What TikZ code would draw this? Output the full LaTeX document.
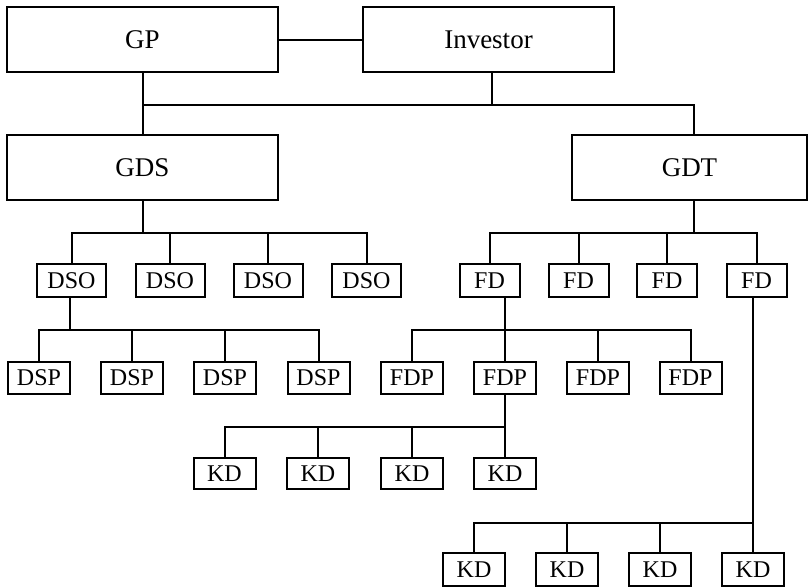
\documentclass[tikz,border=0pt]{standalone}
\usepackage{fontspec}
\setmainfont{Liberation Serif}
\begin{document}
\begin{tikzpicture}[x=1pt, y=-1pt, line width=2pt,
  unit/.style={draw, inner sep=0pt},
  big/.style={unit, minimum height=65pt, font=\fontsize{27}{30}\selectfont},
  small/.style={unit, minimum height=32pt, minimum width=62pt, font=\fontsize{24}{28}\selectfont}]
\useasboundingbox (0,0) rectangle (809,587);

% top level
\node[big, minimum width=271pt] (GP) at (142.5,39.5) {GP};
\node[big, minimum width=251pt] (Investor) at (488.5,39.5) {Investor};
\node[big, minimum width=271pt] (GDS) at (142.5,167.5) {GDS};
\node[big, minimum width=235pt] (GDT) at (689.5,167.5) {GDT};

\draw (GP.east) -- (Investor.west);
\draw (GP.south) -- (GDS.north);
\draw ([xshift=3.5pt]Investor.south) -- ++(0,32) coordinate (topbus);
\draw (GP.south |- topbus) -| ([xshift=4pt]GDT.north);

% second level
\foreach \x [count=\i] in {71.5,170,268,366.5}
  \node[small, minimum width=69pt, minimum height=33pt] (DSO\i) at (\x,280.5) {DSO};
\foreach \x [count=\i] in {489.5,578.5,667,756.5}
  \node[small, minimum width=60pt, minimum height=33pt] (FD\i) at (\x,280.5) {FD};
\foreach \i in {1,...,4} {
  \draw (GDS.south) -- ++(0,32) -| (DSO\i.north);
  \draw ([xshift=4pt]GDT.south) -- ++(0,32) -| (FD\i.north);
}

% third level
\foreach \x [count=\i] in {39,132,225,318.5}
  \node[small] (DSP\i) at (\x,378) {DSP};
\foreach \x [count=\i] in {412,505,598,690.5}
  \node[small] (FDP\i) at (\x,378) {FDP};
\foreach \i in {1,...,4} {
  \draw ([xshift=-1.5pt]DSO1.south) -- ++(0,32) -| (DSP\i.north);
  \draw ([xshift=15.5pt]FD1.south) -- ++(0,32) -| (FDP\i.north);
}

% KD units
\foreach \x [count=\i] in {224.5,318,412,505}
  \node[small, minimum height=31pt] (KDa\i) at (\x,473.5) {KD};
\foreach \x [count=\i] in {474,567,660,753}
  \node[small, minimum height=33pt] (KDb\i) at (\x,569.5) {KD};
\foreach \i in {1,...,4} {
  \draw (FDP2.south) -- ++(0,32) -| (KDa\i.north);
  \draw ([xshift=-4pt]FD4.south) -- ++(0,225) -| (KDb\i.north);
}
\end{tikzpicture}
\end{document}
